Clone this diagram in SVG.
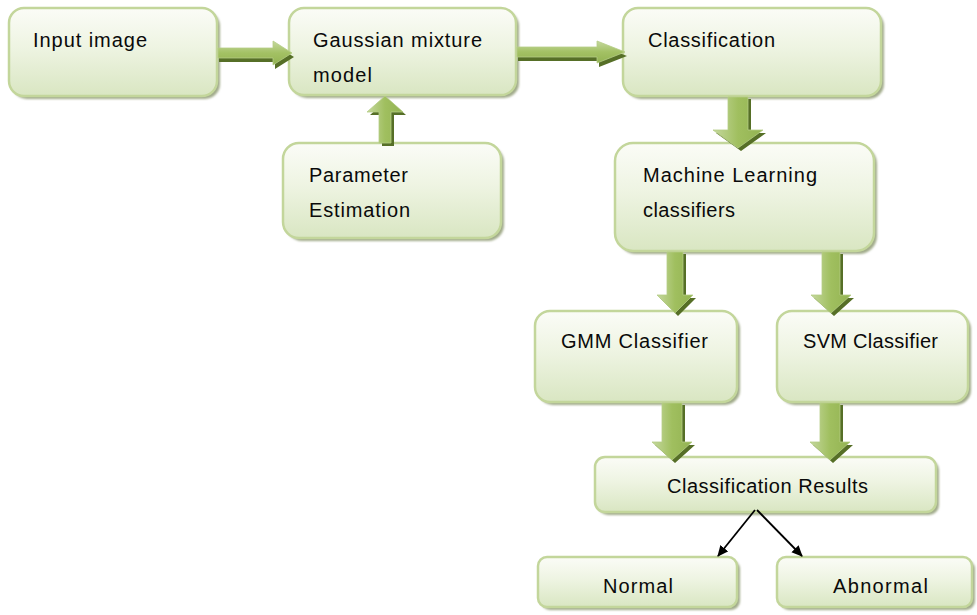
<svg xmlns="http://www.w3.org/2000/svg" width="977" height="615" viewBox="0 0 977 615">
<defs>
<linearGradient id="boxg" x1="0" y1="0" x2="0" y2="1">
<stop offset="0" stop-color="#fbfcf7"/>
<stop offset="0.45" stop-color="#eef4e2"/>
<stop offset="1" stop-color="#d9e6c2"/>
</linearGradient>
<linearGradient id="hg" x1="0" y1="0" x2="0" y2="1">
<stop offset="0" stop-color="#c5d89e"/>
<stop offset="0.5" stop-color="#a3c164"/>
<stop offset="1" stop-color="#93b352"/>
</linearGradient>
<linearGradient id="vg" x1="0" y1="0" x2="1" y2="0">
<stop offset="0" stop-color="#c5d89e"/>
<stop offset="0.5" stop-color="#a0bf5f"/>
<stop offset="1" stop-color="#93b352"/>
</linearGradient>
<filter id="blur" x="-5%" y="-5%" width="110%" height="110%"><feGaussianBlur stdDeviation="0.8"/></filter>
<marker id="ah" markerWidth="12" markerHeight="12" refX="10" refY="5" orient="auto" markerUnits="userSpaceOnUse" viewBox="0 0 12 10">
<path d="M0,0 L11,5 L0,10 Z" fill="#000"/>
</marker>
</defs>
<style>
.sh{fill:#a1ab8a;filter:url(#blur)}
.bx{fill:url(#boxg);stroke:#c3d69b;stroke-width:2.5}
.t{font-family:"Liberation Sans",Arial,sans-serif;font-size:20px;fill:#0a0a0a}
.ash{fill:#566f27}
.ah{fill:url(#hg);stroke:#b5cd85;stroke-width:0.8}
.av{fill:url(#vg);stroke:#b5cd85;stroke-width:0.8}
.thin{stroke:#000;stroke-width:1.8;fill:none}
</style>

<g id="node-input">
<rect class="sh" x="12" y="11" width="208" height="88" rx="15"/>
<rect class="bx" x="9" y="8" width="208" height="88" rx="15"/>
<text class="t" x="33" y="47" textLength="114" lengthAdjust="spacing">Input image</text>
</g>

<g id="node-gmm">
<rect class="sh" x="292" y="11" width="227" height="87" rx="15"/>
<rect class="bx" x="289" y="8" width="227" height="87" rx="15"/>
<text class="t" x="313" y="47" textLength="169" lengthAdjust="spacing">Gaussian mixture</text>
<text class="t" x="313" y="82" textLength="59" lengthAdjust="spacing">model</text>
</g>

<g id="node-classification">
<rect class="sh" x="626" y="11" width="258" height="88" rx="15"/>
<rect class="bx" x="623" y="8" width="258" height="88" rx="15"/>
<text class="t" x="648" y="47" textLength="127" lengthAdjust="spacing">Classification</text>
</g>

<g id="node-parameter">
<rect class="sh" x="286" y="146" width="218" height="95" rx="16"/>
<rect class="bx" x="283" y="143" width="218" height="95" rx="16"/>
<text class="t" x="309" y="182" textLength="99" lengthAdjust="spacing">Parameter</text>
<text class="t" x="309" y="217" textLength="101" lengthAdjust="spacing">Estimation</text>
</g>

<g id="node-ml">
<rect class="sh" x="618" y="146" width="259" height="108" rx="18"/>
<rect class="bx" x="615" y="143" width="259" height="108" rx="18"/>
<text class="t" x="643" y="182" textLength="174" lengthAdjust="spacing">Machine Learning</text>
<text class="t" x="643" y="217" textLength="92" lengthAdjust="spacing">classifiers</text>
</g>

<g id="node-gmmclf">
<rect class="sh" x="538" y="314" width="202" height="91" rx="15"/>
<rect class="bx" x="535" y="311" width="202" height="91" rx="15"/>
<text class="t" x="561" y="348" textLength="147" lengthAdjust="spacing">GMM Classifier</text>
</g>

<g id="node-svmclf">
<rect class="sh" x="780" y="314" width="191" height="91" rx="15"/>
<rect class="bx" x="777" y="311" width="191" height="91" rx="15"/>
<text class="t" x="803" y="348" textLength="135" lengthAdjust="spacing">SVM Classifier</text>
</g>

<g id="node-results">
<rect class="sh" x="598" y="460" width="341" height="55" rx="10"/>
<rect class="bx" x="595" y="457" width="341" height="55" rx="10"/>
<text class="t" x="667" y="493" textLength="201" lengthAdjust="spacing">Classification Results</text>
</g>

<g id="node-normal">
<rect class="sh" x="541" y="560" width="199" height="50" rx="9"/>
<rect class="bx" x="538" y="557" width="199" height="50" rx="9"/>
<text class="t" x="603" y="593" textLength="70" lengthAdjust="spacing">Normal</text>
</g>

<g id="node-abnormal">
<rect class="sh" x="780" y="560" width="195" height="50" rx="9"/>
<rect class="bx" x="777" y="557" width="195" height="50" rx="9"/>
<text class="t" x="833" y="593" textLength="95" lengthAdjust="spacing">Abnormal</text>
</g>

<g id="connectors">
<path class="ash" d="M219,52 H275 V45 L294,57 L275,69 V62 H219 Z"/>
<path class="ah" d="M218,48 H273 V41 L292,53 L273,65 V58 H218 Z"/>

<path class="ash" d="M518,51 H599 V45 L627,56 L599,67 V61 H518 Z"/>
<path class="ah" d="M517,47 H597 V41 L625,52 L597,63 V57 H517 Z"/>

<path class="ash" d="M382,146 V115 H370 L388,99 L406,115 H394 V146 Z"/>
<path class="av" d="M379,143 V112 H367 L385,96 L403,112 H391 V143 Z"/>

<path class="ash" d="M731,99 V133 H716 L741,151 L766,133 H751 V99 Z"/>
<path class="av" d="M728,97 V130 H713 L738,148 L763,130 H748 V97 Z"/>

<path class="ash" d="M670,254 V298 H660 L678,316 L696,298 H686 V254 Z"/>
<path class="av" d="M667,252 V295 H657 L675,313 L693,295 H683 V252 Z"/>

<path class="ash" d="M825,254 V298 H814 L834,316 L854,298 H843 V254 Z"/>
<path class="av" d="M822,252 V295 H811 L831,313 L851,295 H840 V252 Z"/>

<path class="ash" d="M665,405 V445 H655 L675,463 L695,445 H685 V405 Z"/>
<path class="av" d="M662,403 V442 H652 L672,460 L692,442 H682 V403 Z"/>

<path class="ash" d="M823,405 V445 H813 L833,463 L853,445 H843 V405 Z"/>
<path class="av" d="M820,403 V442 H810 L830,460 L850,442 H840 V403 Z"/>

<line class="thin" x1="755" y1="510" x2="718" y2="556" marker-end="url(#ah)"/>
<line class="thin" x1="757" y1="510" x2="802" y2="556" marker-end="url(#ah)"/>
</g>
</svg>
